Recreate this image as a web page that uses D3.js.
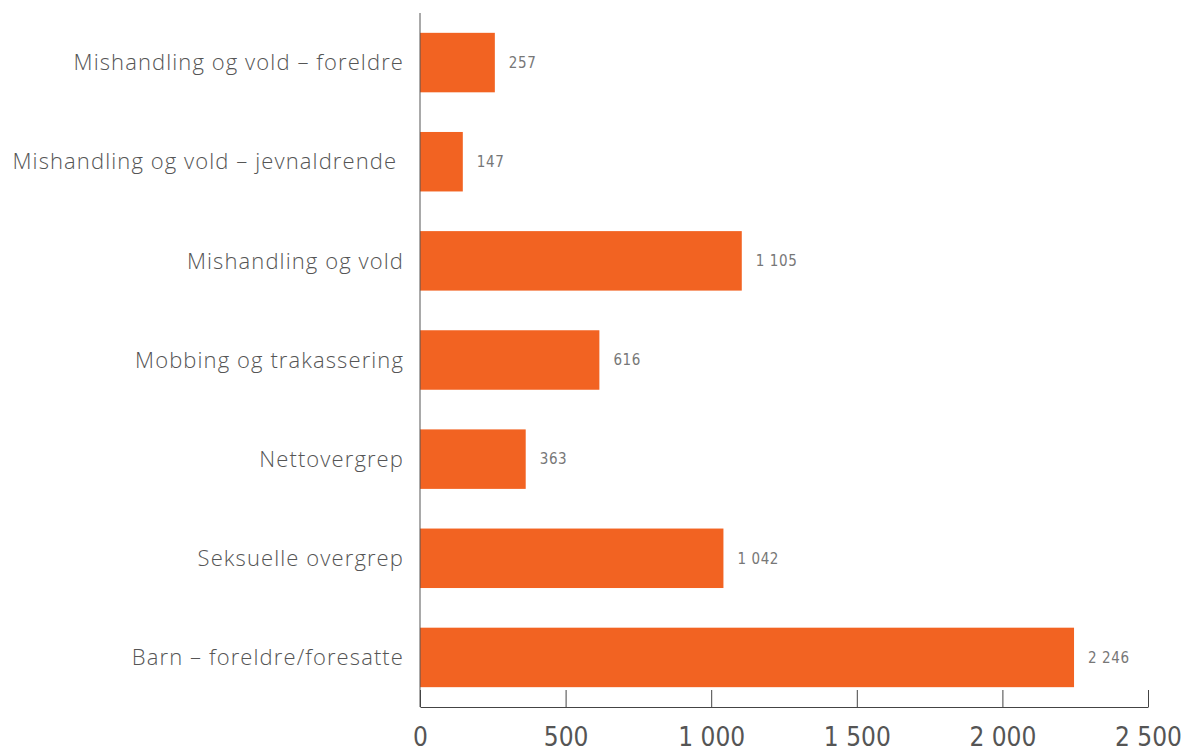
<!DOCTYPE html>
<html>
<head>
<meta charset="utf-8">
<script src="https://cdn.jsdelivr.net/npm/d3@7"></script>
<style>
  html, body { margin: 0; padding: 0; background: #fff; }
  svg { display: block; }
  .cat { font-family: "Open Sans", "DejaVu Sans", sans-serif; font-weight: 300; font-size: 22px; letter-spacing: 1.1px; fill: #555; white-space: pre; }
  .val { font-family: "Liberation Sans Narrow", "DejaVu Sans Condensed", sans-serif; font-size: 15px; letter-spacing: 0.6px; fill: #777; }
  .tick text { font-family: "Liberation Sans Narrow", "DejaVu Sans Condensed", sans-serif; font-size: 26px; fill: #555; }
</style>
</head>
<body>
<svg id="chart" width="1184" height="751"></svg>
<script>
// Cases by category
const categories = [
  "Mishandling og vold – foreldre",
  "Mishandling og vold – jevnaldrende ",
  "Mishandling og vold",
  "Mobbing og trakassering",
  "Nettovergrep",
  "Seksuelle overgrep",
  "Barn – foreldre/foresatte"
];
const values = [257, 147, 1105, 616, 363, 1042, 2246];
const valueLabels = ["257", "147", "1 105", "616", "363", "1 042", "2 246"];
const tickValues = [0, 500, 1000, 1500, 2000, 2500];
const tickLabels = ["0", "500", "1 000", "1 500", "2 000", "2 500"];

const svg = d3.select("#chart");
const x0 = 420, x1 = 1148, yTop = 13, yBottom = 707;

const x = d3.scaleLinear().domain([0, 2500]).range([x0, x1]);
const y = d3.scaleBand().domain(categories).range([yTop, yBottom])
  .paddingInner(0.4).paddingOuter(0.2);

// bars
svg.selectAll("rect.bar").data(values).join("rect")
  .attr("class", "bar")
  .attr("x", x(0))
  .attr("y", (d, i) => y(categories[i]))
  .attr("width", d => x(d) - x(0))
  .attr("height", y.bandwidth())
  .attr("fill", "#f26322");

// value labels
svg.selectAll("text.val").data(values).join("text")
  .attr("class", "val")
  .attr("x", d => x(d) + 14)
  .attr("y", (d, i) => y(categories[i]) + y.bandwidth() / 2)
  .attr("dy", "0.35em")
  .text((d, i) => valueLabels[i]);

// category labels
svg.selectAll("text.cat").data(categories).join("text")
  .attr("class", "cat")
  .attr("x", 404)
  .attr("y", d => y(d) + y.bandwidth() / 2)
  .attr("dy", "0.35em")
  .attr("text-anchor", "end")
  .text(d => d);

// vertical baseline
svg.append("line")
  .attr("x1", x(0)).attr("x2", x(0))
  .attr("y1", yTop).attr("y2", yBottom)
  .attr("stroke", "#555").attr("stroke-width", 1);

// bottom axis, ticks pointing up
const axis = d3.axisBottom(x)
  .tickValues(tickValues)
  .tickFormat((d, i) => tickLabels[i])
  .tickSizeInner(-17)
  .tickSizeOuter(0)
  .tickPadding(21);

const gx = svg.append("g")
  .attr("transform", `translate(0,${yBottom})`)
  .call(axis);
gx.select(".domain").attr("stroke", "#444");
gx.selectAll(".tick line").attr("stroke", "#444");
gx.selectAll(".tick text").attr("fill", "#555");
</script>
</body>
</html>
